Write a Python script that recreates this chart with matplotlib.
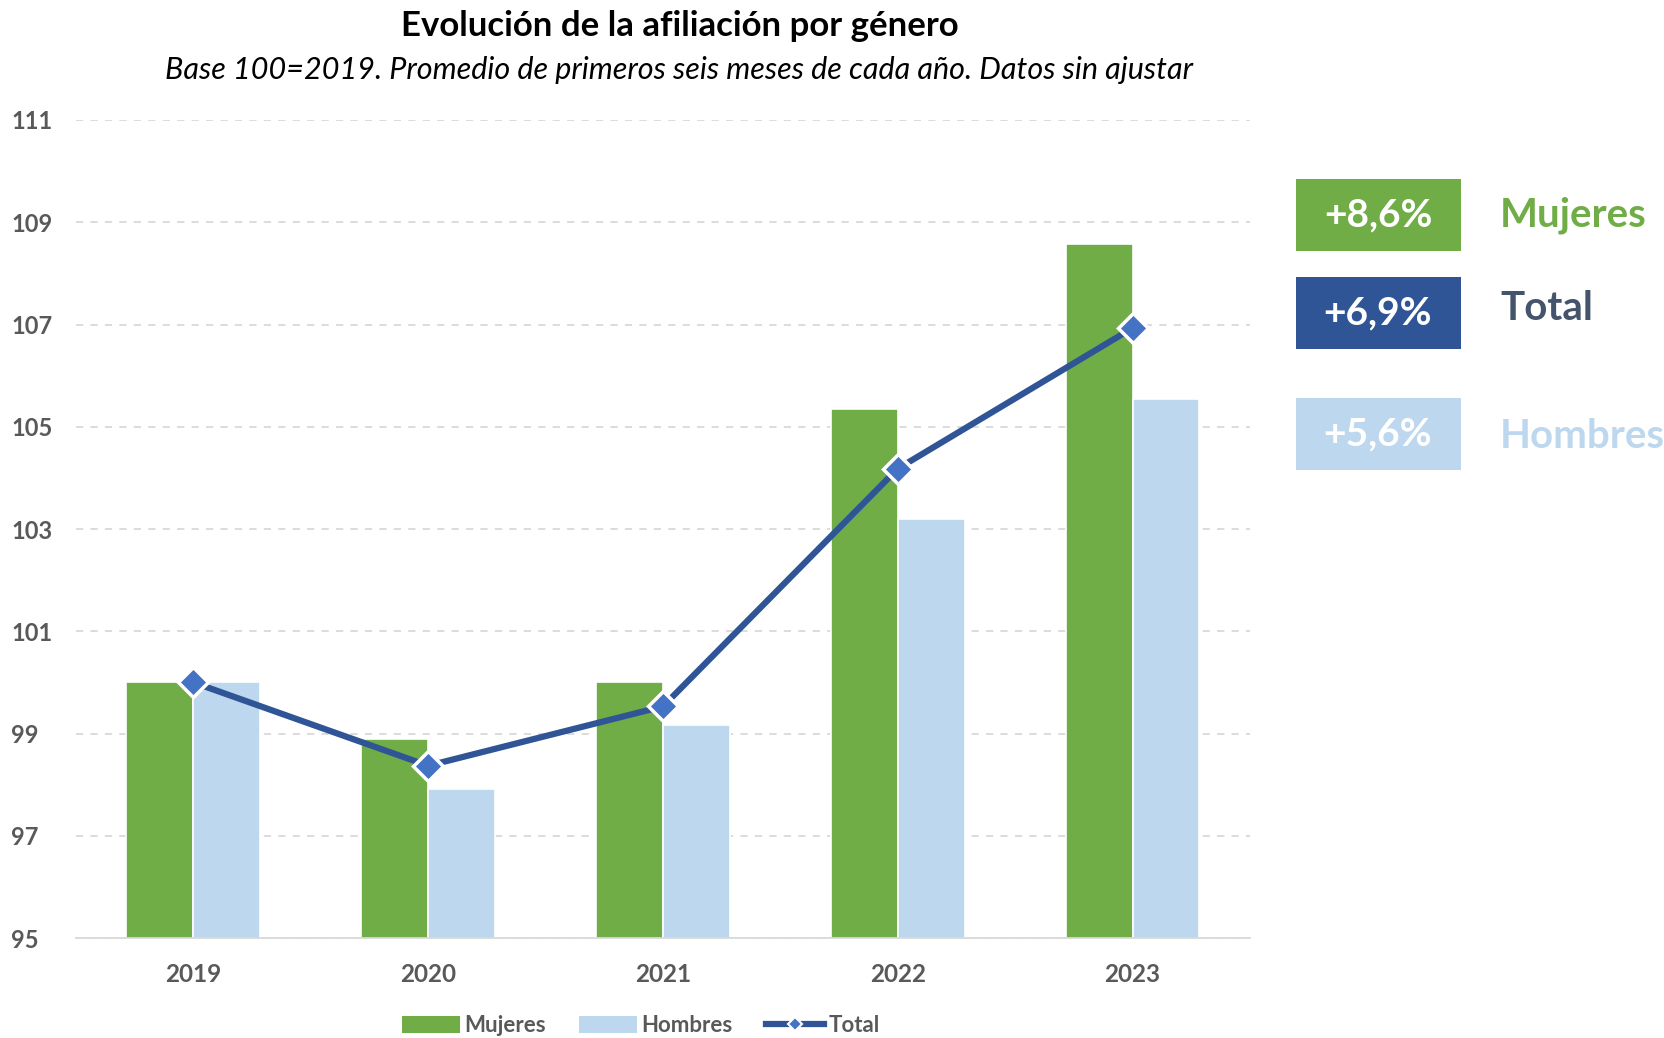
import numpy as np
import matplotlib
matplotlib.use('Agg')
import matplotlib.pyplot as plt
from matplotlib.patches import Rectangle, Patch
from matplotlib.lines import Line2D

plt.rcParams['font.family'] = ['Lato', 'DejaVu Sans']

# data
years = ['2019', '2020', '2021', '2022', '2023']
mujeres = [100.0, 98.89, 100.0, 105.35, 108.57]
hombres = [100.0, 97.91, 99.16, 103.19, 105.55]
total = [100.0, 98.37, 99.53, 104.18, 106.93]
yticks = [95, 97, 99, 101, 103, 105, 107, 109, 111]

# summary boxes on the right
box_values = ['+8,6%', '+6,9%', '+5,6%']
box_labels = ['Mujeres', 'Total', 'Hombres']

c_green = '#70AD47'
c_light = '#BDD7EE'
c_line = '#2F5597'
c_marker = '#4472C4'
c_text = '#595959'

fig = plt.figure(figsize=(16.65, 10.38), dpi=100)
ax = fig.add_axes([0.0456, 0.0963, 0.7051, 0.7881])

x = np.arange(len(years))
w = 0.285
ax.bar(x - w / 2, mujeres, width=w, color=c_green, edgecolor='white', linewidth=1.2, zorder=2)
ax.bar(x + w / 2, hombres, width=w, color=c_light, edgecolor='white', linewidth=1.2, zorder=2)
ax.plot(x, total, color=c_line, lw=4.5, marker='D', markersize=15,
        markerfacecolor=c_marker, markeredgecolor='white', markeredgewidth=2.5, zorder=3)

ax.set_ylim(95, 111)
ax.set_xlim(-0.5, 4.5)
ax.set_yticks(yticks)
ax.set_xticks(x)
ax.set_xticklabels(years)
ax.grid(axis='y', color='#d9d9d9', linestyle=(0, (4, 4)), linewidth=1.3, zorder=0)
ax.tick_params(length=0)
ax.tick_params(axis='x', pad=18)
for s in ['top', 'right', 'left']:
    ax.spines[s].set_visible(False)
ax.spines['bottom'].set_color('#d9d9d9')
ax.spines['bottom'].set_linewidth(1.3)
for lab in ax.get_yticklabels():
    lab.set_fontsize(17)
    lab.set_fontweight('bold')
    lab.set_color(c_text)
    lab.set_horizontalalignment('left')
    lab.set_x(-0.051)
for lab in ax.get_xticklabels():
    lab.set_fontsize(17.5)
    lab.set_fontweight('bold')
    lab.set_color(c_text)

fig.text(0.408, 0.975, 'Evolución de la afiliación por género', ha='center', va='center',
         fontsize=25, fontweight='bold', color='black')
fig.text(0.408, 0.933, 'Base 100=2019. Promedio de primeros seis meses de cada año. Datos sin ajustar',
         ha='center', va='center', fontsize=22, fontstyle='italic', color='black')

handles = [
    Patch(facecolor=c_green, edgecolor='none'),
    Patch(facecolor=c_light, edgecolor='none'),
    Line2D([], [], color=c_line, lw=4.5, marker='D', markersize=7,
           markerfacecolor=c_marker, markeredgecolor='white', markeredgewidth=1.5),
]
leg = fig.legend(handles, ['Mujeres', 'Hombres', 'Total'], loc='center',
                 bbox_to_anchor=(0.385, 0.012), ncol=3, frameon=False,
                 fontsize=16, handlelength=2.6, handleheight=0.8, columnspacing=1.5,
                 handletextpad=0.2, numpoints=1, borderpad=0)
for t in leg.get_texts():
    t.set_color(c_text)
    t.set_fontweight('bold')

# right side summary boxes
box_colors = [c_green, c_line, c_light]
label_colors = [c_green, '#44546A', c_light]
box_tops = [179, 277, 398]
label_shift = [0, 5, -2]  # label offset above box centre, px
for val, lab, bc, lc, top, sh in zip(box_values, box_labels, box_colors, label_colors,
                                     box_tops, label_shift):
    y0 = 1 - (top + 72) / 1038
    h = 72 / 1038
    fig.add_artist(Rectangle((1296 / 1665, y0), 165 / 1665, h, transform=fig.transFigure,
                             facecolor=bc, edgecolor='none'))
    fig.text((1296 + 82) / 1665, y0 + h / 2, val, ha='center', va='center', color='white',
             fontsize=28, fontweight='bold')
    fig.text(1500 / 1665, y0 + h / 2 + sh / 1038, lab, ha='left', va='center', color=lc,
             fontsize=29, fontweight='bold')

fig.savefig('out.png', dpi=100)
